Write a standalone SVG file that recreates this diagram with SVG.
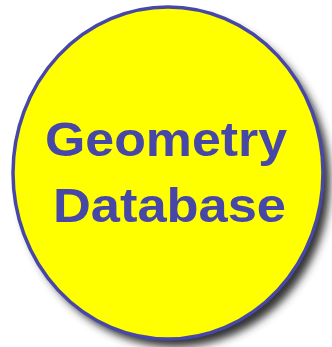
<svg xmlns="http://www.w3.org/2000/svg" width="332" height="347" viewBox="0 0 332 347">
<defs>
<filter id="blur" x="-20%" y="-20%" width="140%" height="140%"><feGaussianBlur stdDeviation="4"/></filter>
<style>
.lbl{font-family:"Liberation Sans",Arial,sans-serif;font-weight:bold;font-size:48px;fill:#4747a8}
</style>
</defs>
<rect width="332" height="347" fill="#ffffff"/>
<g id="node-geometry-database">
<ellipse cx="175" cy="181" rx="155" ry="166" fill="#333333" filter="url(#blur)"/>
<ellipse cx="168" cy="173" rx="155" ry="166" fill="#ffff00" stroke="#4747a8" stroke-width="3.5"/>
<text class="lbl" x="45" y="156" textLength="242" lengthAdjust="spacingAndGlyphs">Geometry</text>
<text class="lbl" x="53" y="222" textLength="233" lengthAdjust="spacingAndGlyphs">Database</text>
</g>
<g id="connectors"/>
</svg>
